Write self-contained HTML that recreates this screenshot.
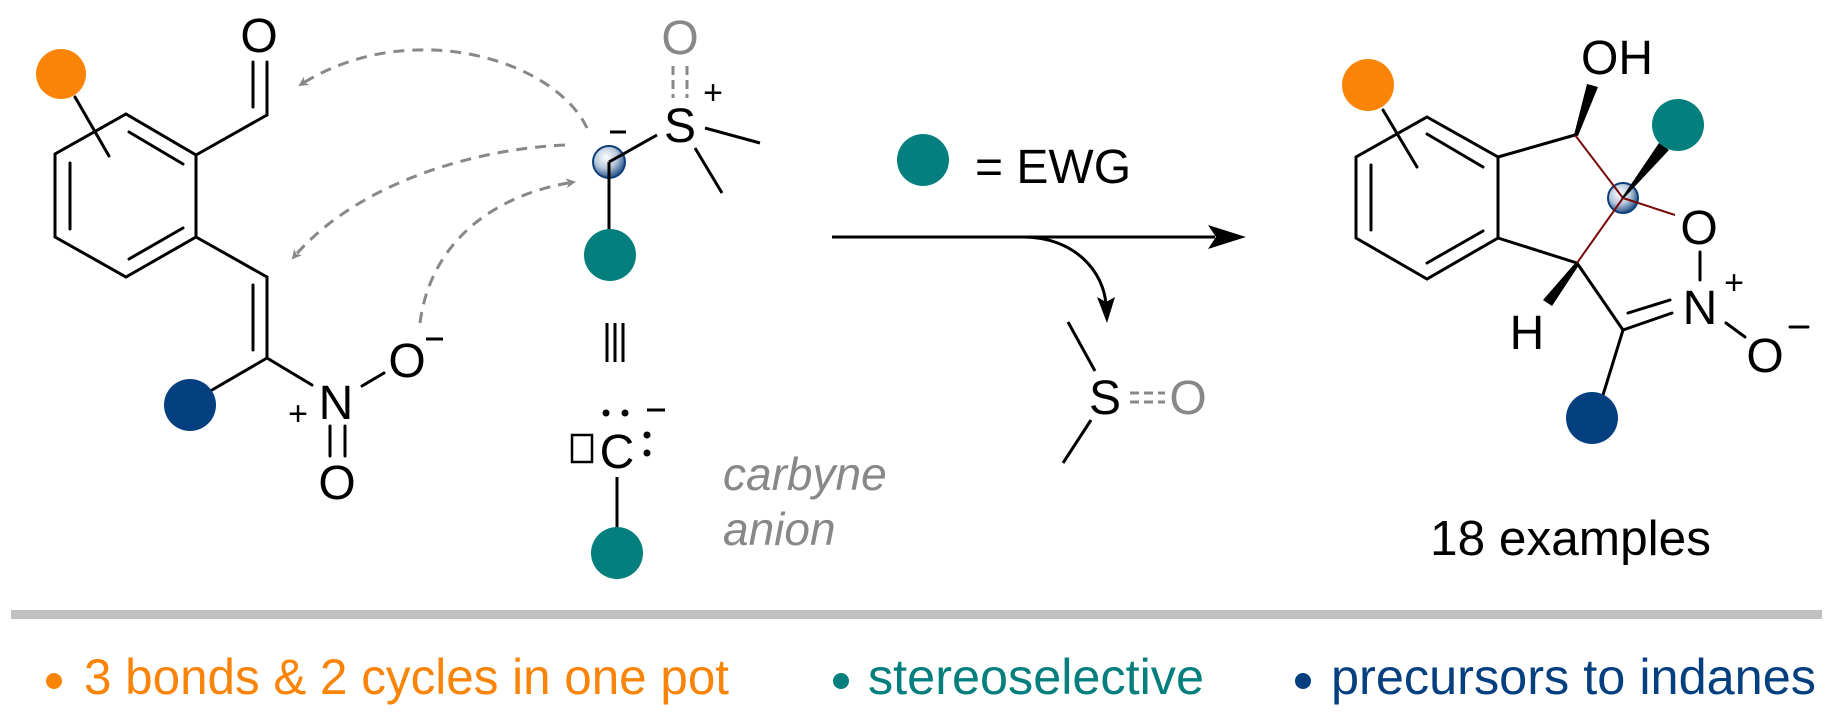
<!DOCTYPE html>
<html><head><meta charset="utf-8"><style>
html,body{margin:0;padding:0;background:#fff;}
svg{display:block;}
text{font-family:"Liberation Sans",Arial,sans-serif;}
</style></head><body>
<svg width="1833" height="719" viewBox="0 0 1833 719" xmlns="http://www.w3.org/2000/svg">
<defs>
<radialGradient id="ball" cx="0.4" cy="0.35" r="0.7">
<stop offset="0" stop-color="#ffffff"/><stop offset="0.5" stop-color="#b8c8dc"/><stop offset="1" stop-color="#0d3f7a"/>
</radialGradient>
<marker id="gh" markerWidth="10" markerHeight="10" refX="8" refY="5" orient="auto" markerUnits="userSpaceOnUse" viewBox="0 0 10 10">
<path d="M0,0 L10,5 L0,10 L3,5 Z" fill="#888"/>
</marker>
</defs>

<!-- LEFT MOLECULE -->
<g stroke="#000" stroke-width="3" fill="none" stroke-linecap="round">
<polygon points="126,114 196,155 196,237 126,277 55,237 55,154"/>
<line x1="129" y1="132" x2="183" y2="164"/>
<line x1="70" y1="163" x2="70" y2="229"/>
<line x1="129" y1="259" x2="183" y2="228"/>
<line x1="75" y1="97" x2="109" y2="156"/>
<line x1="196" y1="155" x2="267" y2="115"/>
<line x1="267" y1="115" x2="267" y2="62"/>
<line x1="253" y1="62" x2="253" y2="107"/>
<line x1="196" y1="237" x2="267" y2="277"/>
<line x1="267" y1="277" x2="267" y2="358"/>
<line x1="253" y1="285" x2="253" y2="350"/>
<line x1="267" y1="358" x2="212" y2="390"/>
<line x1="267" y1="358" x2="312" y2="385"/>
<line x1="362" y1="386" x2="384" y2="373"/>
<line x1="330" y1="426" x2="330" y2="456"/>
<line x1="345" y1="426" x2="345" y2="456"/>
</g>
<circle cx="61" cy="74" r="25" fill="#f98408"/>
<circle cx="190" cy="405" r="26" fill="#043f80"/>
<text x="259" y="52" font-size="48" text-anchor="middle">O</text>
<text x="336" y="419" font-size="48" text-anchor="middle">N</text>
<text x="298" y="425" font-size="34" text-anchor="middle">+</text>
<text x="337" y="499" font-size="48" text-anchor="middle">O</text>
<text x="407" y="377" font-size="48" text-anchor="middle">O</text>
<line x1="426" y1="339" x2="443" y2="339" stroke="#000" stroke-width="3"/>

<!-- dashed arrows -->
<g stroke="#888" stroke-width="3" fill="none" stroke-dasharray="11,8">
<path d="M587,128 C555,60 410,15 300,85" marker-end="url(#gh)"/>
<path d="M565,145 C460,150 350,190 293,258" marker-end="url(#gh)"/>
<path d="M420,323 C430,245 490,195 574,182" marker-end="url(#gh)"/>
</g>

<!-- ylide -->
<g stroke="#000" stroke-width="3" fill="none">
<line x1="705" y1="128" x2="760" y2="143"/>
<line x1="695" y1="148" x2="722" y2="193"/>
<line x1="610" y1="132" x2="626" y2="132"/>
<line x1="607" y1="323" x2="607" y2="362"/>
<line x1="615" y1="323" x2="615" y2="362"/>
<line x1="623" y1="323" x2="623" y2="362"/>
<line x1="617" y1="477" x2="617" y2="530"/>
<line x1="647" y1="410" x2="665" y2="410"/>
<rect x="572" y="435" width="20" height="27" stroke-width="2.5"/>
</g>
<g stroke="#888" stroke-width="3" stroke-dasharray="9,5">
<line x1="673" y1="66" x2="673" y2="98"/>
<line x1="687" y1="66" x2="687" y2="98"/>
</g>
<circle cx="609" cy="162" r="16" fill="url(#ball)" stroke="#0d3f7a" stroke-width="2"/>
<line x1="609" y1="162" x2="609" y2="230" stroke="#000" stroke-width="3"/>
<line x1="609" y1="162" x2="657" y2="135" stroke="#000" stroke-width="3"/>
<circle cx="610" cy="255" r="26" fill="#057f7d"/>
<text x="680" y="54" font-size="48" text-anchor="middle" fill="#888">O</text>
<text x="680" y="142" font-size="48" text-anchor="middle">S</text>
<text x="713" y="104" font-size="34" text-anchor="middle">+</text>
<text x="617" y="468" font-size="48" text-anchor="middle">C</text>
<circle cx="606" cy="413" r="3.5"/><circle cx="625" cy="413" r="3.5"/>
<circle cx="647" cy="435" r="3.5"/><circle cx="647" cy="453" r="3.5"/>
<circle cx="617" cy="553" r="26" fill="#057f7d"/>
<text x="723" y="490" font-size="46" font-style="italic" fill="#888">carbyne</text>
<text x="723" y="545" font-size="46" font-style="italic" fill="#888">anion</text>

<!-- EWG legend & arrow -->
<circle cx="923" cy="160" r="26" fill="#057f7d"/>
<text x="975" y="183" font-size="48">= EWG</text>
<line x1="832" y1="237" x2="1215" y2="237" stroke="#000" stroke-width="3"/>
<path d="M1246,237 L1208,225 L1216,237 L1208,249 Z" fill="#000"/>
<path d="M1023,237 C1075,237 1104,272 1106,305" stroke="#000" stroke-width="3" fill="none"/>
<path d="M1107,323 L1097,297 L1106,302 L1115,297 Z" fill="#000"/>
<g stroke="#000" stroke-width="3">
<line x1="1068" y1="322" x2="1095" y2="371"/>
<line x1="1091" y1="420" x2="1063" y2="463"/>
</g>
<g stroke="#888" stroke-width="3" stroke-dasharray="9,5">
<line x1="1130" y1="393" x2="1165" y2="393"/>
<line x1="1130" y1="402" x2="1165" y2="402"/>
</g>
<text x="1105" y="414" font-size="48" text-anchor="middle">S</text>
<text x="1188" y="414" font-size="48" text-anchor="middle" fill="#888">O</text>

<!-- PRODUCT -->
<g stroke="#000" stroke-width="3" fill="none" stroke-linecap="round">
<polygon points="1427,117 1498,157 1498,238 1427,279 1356,238 1356,157"/>
<line x1="1427" y1="134" x2="1483" y2="167"/>
<line x1="1371" y1="165" x2="1371" y2="230"/>
<line x1="1427" y1="263" x2="1483" y2="231"/>
<line x1="1383" y1="110" x2="1417" y2="167"/>
<line x1="1498" y1="157" x2="1575" y2="135"/>
<line x1="1498" y1="238" x2="1577" y2="263"/>
<line x1="1577" y1="263" x2="1623" y2="330"/>
<line x1="1623" y1="330" x2="1672" y2="313"/>
<line x1="1628" y1="313" x2="1670" y2="300"/>
<line x1="1623" y1="330" x2="1603" y2="395"/>
<line x1="1700" y1="252" x2="1700" y2="280"/>
<line x1="1726" y1="323" x2="1745" y2="337"/>
<line x1="1790" y1="327" x2="1808" y2="327"/>
</g>
<circle cx="1623" cy="198" r="15" fill="url(#ball)" stroke="#0d3f7a" stroke-width="2"/>
<g stroke="#7a0a0a" stroke-width="2" fill="none">
<line x1="1575" y1="135" x2="1623" y2="198"/>
<line x1="1623" y1="198" x2="1577" y2="263"/>
<line x1="1623" y1="198" x2="1675" y2="215"/>
</g>
<polygon points="1574,135 1578,136 1598,87 1587,84" fill="#000"/>
<polygon points="1621,199 1625,197 1669,150 1659,143" fill="#000"/>
<polygon points="1576,262 1579,265 1552,306 1543,300" fill="#000"/>
<circle cx="1368" cy="85" r="26" fill="#f98408"/>
<circle cx="1678" cy="125" r="26" fill="#057f7d"/>
<circle cx="1592" cy="418" r="26" fill="#043f80"/>
<text x="1617" y="74" font-size="48" text-anchor="middle">OH</text>
<text x="1699" y="244" font-size="48" text-anchor="middle">O</text>
<text x="1700" y="324" font-size="48" text-anchor="middle">N</text>
<text x="1734" y="294" font-size="34" text-anchor="middle">+</text>
<text x="1765" y="372" font-size="48" text-anchor="middle">O</text>
<text x="1527" y="349" font-size="48" text-anchor="middle">H</text>
<text x="1430" y="555" font-size="49" textLength="281" lengthAdjust="spacingAndGlyphs">18 examples</text>

<!-- separator -->
<rect x="11" y="610" width="1811" height="9" fill="#c0c0c0"/>

<!-- bottom bullets -->
<circle cx="54" cy="681" r="8" fill="#f98408"/>
<text x="84" y="694" font-size="50" fill="#f98408" textLength="645" lengthAdjust="spacingAndGlyphs">3 bonds &amp; 2 cycles in one pot</text>
<circle cx="841" cy="681" r="8" fill="#057f7d"/>
<text x="868" y="694" font-size="50" fill="#057f7d" textLength="336" lengthAdjust="spacingAndGlyphs">stereoselective</text>
<circle cx="1303" cy="681" r="8" fill="#043f80"/>
<text x="1331" y="694" font-size="50" fill="#043f80" textLength="485" lengthAdjust="spacingAndGlyphs">precursors to indanes</text>
</svg>
</body></html>
